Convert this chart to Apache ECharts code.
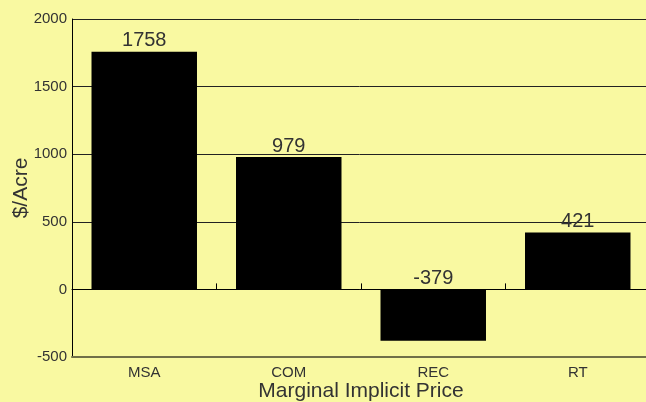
<!DOCTYPE html>
<html>
<head>
<meta charset="utf-8">
<script src="https://cdn.jsdelivr.net/npm/echarts@6/dist/echarts.min.js"></script>
<style>
html,body{margin:0;padding:0;background:#F9F9A1;}
#c{width:646px;height:402px;}
</style>
</head>
<body>
<div id="c"></div>
<script>
const categories = ['MSA', 'COM', 'REC', 'RT'];
const values = [1758, 979, -379, 421];
const yTicks = { min: -500, max: 2000, interval: 500 };
const xTitle = 'Marginal Implicit Price';
const yTitle = '$/Acre';

const chart = echarts.init(document.getElementById('c'));
const font = 'Arial, "Liberation Sans", sans-serif';
chart.setOption({
  backgroundColor: '#F9F9A1',
  animation: false,
  grid: { left: 72, top: 19, right: -4, bottom: 45, containLabel: false, outerBoundsMode: 'none' },
  xAxis: [{
    type: 'category',
    data: categories,
    position: 'bottom',
    name: xTitle,
    nameLocation: 'middle',
    nameGap: 24,
    nameMoveOverlap: false,
    nameTextStyle: { fontSize: 21, color: '#333', fontFamily: font },
    axisLine: { onZero: false, lineStyle: { color: '#707048', width: 2 } },
    axisTick: { show: false },
    axisLabel: { fontSize: 15, color: '#333', fontFamily: font, margin: 8 },
    splitLine: { show: false }
  }, {
    type: 'category',
    data: categories,
    position: 'bottom',
    axisLine: { show: true, onZero: true, onZeroAxisIndex: 0, lineStyle: { color: '#000', width: 1 } },
    axisTick: { show: true, inside: true, length: 6, lineStyle: { color: '#000', width: 1 } },
    axisLabel: { show: false },
    splitLine: { show: false }
  }],
  yAxis: {
    type: 'value',
    min: yTicks.min,
    max: yTicks.max,
    interval: yTicks.interval,
    name: yTitle,
    nameLocation: 'middle',
    nameGap: 40,
    nameMoveOverlap: false,
    nameTextStyle: { fontSize: 21, color: '#333', fontFamily: font },
    axisLine: { show: true, lineStyle: { color: '#000', width: 1 } },
    axisTick: { show: false },
    axisLabel: { fontSize: 15, color: '#333', fontFamily: font, margin: 5, formatter: v => String(v) },
    splitLine: { show: true, lineStyle: { color: '#222', width: 1 } }
  },
  series: [{
    type: 'bar',
    xAxisIndex: 0,
    data: values,
    barCategoryGap: '27%',
    itemStyle: { color: '#000' },
    label: { show: true, position: 'top', distance: 1, fontSize: 20, color: '#333', fontFamily: font }
  }]
});
</script>
</body>
</html>
